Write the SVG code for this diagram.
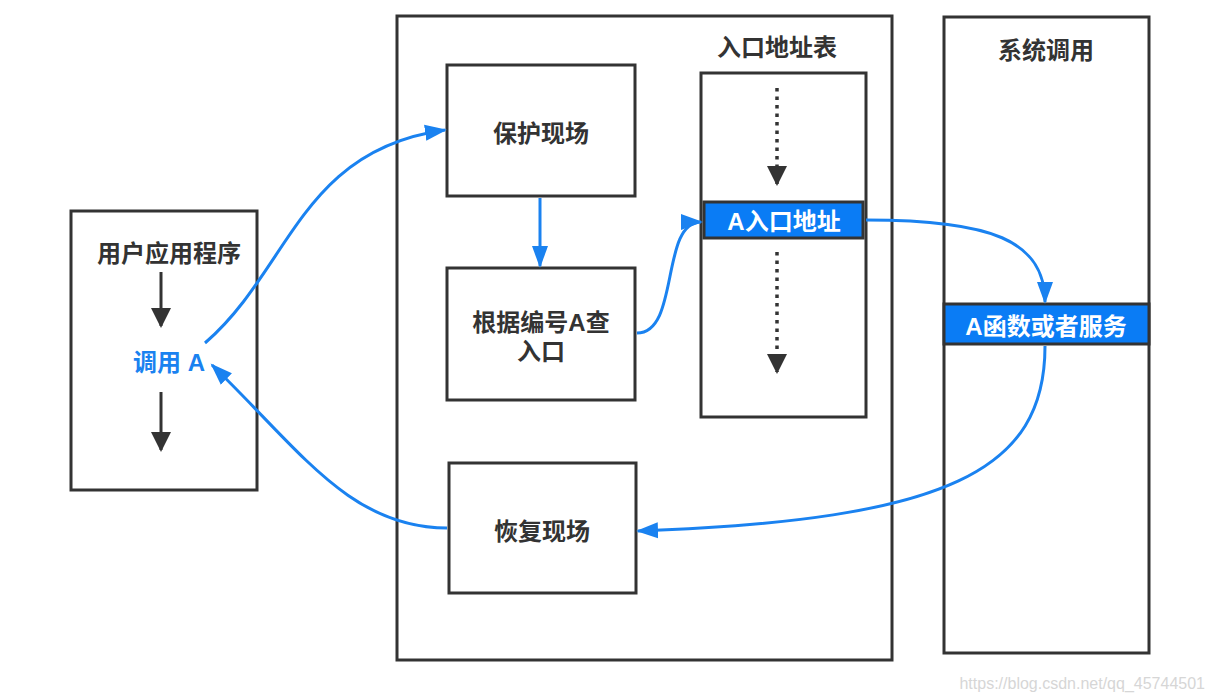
<svg xmlns="http://www.w3.org/2000/svg" width="1214" height="698" viewBox="0 0 1214 698">
<style>
.box{fill:#fff;stroke:#333;stroke-width:3}
.bar{fill:#0a7cf5;stroke:#333;stroke-width:3}
.t{font-family:"Liberation Sans","Noto Sans CJK SC",sans-serif;font-weight:bold;font-size:24px;fill:#333;text-anchor:middle}
.w{fill:#fff}
.b{fill:#1a82f0}
.blue{fill:none;stroke:#1a82f0;stroke-width:3}
.dark{fill:none;stroke:#333;stroke-width:3}
.dot{fill:none;stroke:#333;stroke-width:3.5;stroke-dasharray:3.5 5}
</style>
<defs>
<marker id="ab" markerUnits="userSpaceOnUse" markerWidth="24" markerHeight="20" refX="20" refY="10" orient="auto"><path d="M0,2 L22,10 L0,18 Z" fill="#1a82f0"/></marker>
<marker id="ad" markerUnits="userSpaceOnUse" markerWidth="20" markerHeight="26" refX="18" refY="10" orient="auto"><path d="M0,0 L20,10 L0,20 Z" fill="#333"/></marker>
</defs>
<rect width="1214" height="698" fill="#fff"/>
<g id="user-app">
<rect class="box" x="71" y="211" width="186" height="279"/>
<text class="t" x="169" y="262">用户应用程序</text>
<path class="dark" d="M161,272 L161,326" marker-end="url(#ad)"/>
<text class="t b" x="169" y="371">调用 A</text>
<path class="dark" d="M161,392 L161,450" marker-end="url(#ad)"/>
</g>
<g id="kernel">
<rect class="box" x="397" y="16" width="495" height="644"/>
</g>
<g id="save">
<rect class="box" x="447" y="65" width="188" height="131"/>
<text class="t" x="541" y="142">保护现场</text>
</g>
<g id="lookup">
<rect class="box" x="447" y="268" width="188" height="132"/>
<text class="t" x="541" y="331">根据编号A查</text>
<text class="t" x="541" y="360">入口</text>
</g>
<g id="restore">
<rect class="box" x="449" y="463" width="187" height="130"/>
<text class="t" x="542" y="540">恢复现场</text>
</g>
<g id="entry-table">
<text class="t" x="777" y="56">入口地址表</text>
<rect class="box" x="701" y="73" width="165" height="344"/>
<path class="dot" d="M777,88 L777,184" marker-end="url(#ad)"/>
<rect class="bar" x="704" y="202" width="159" height="36"/>
<text class="t w" x="784" y="230">A入口地址</text>
<path class="dot" d="M777,252 L777,372" marker-end="url(#ad)"/>
</g>
<g id="syscall">
<rect class="box" x="944" y="17" width="205" height="636"/>
<text class="t" x="1046" y="59">系统调用</text>
<rect class="bar" x="944" y="304" width="205" height="40"/>
<text class="t w" x="1046" y="335">A函数或者服务</text>
</g>
<g id="connectors">
<path class="blue" d="M205,343 C290,270 300,150 445,130" marker-end="url(#ab)"/>
<path class="blue" d="M540,198 L540,266" marker-end="url(#ab)"/>
<path class="blue" d="M637,333 C680,333 660,222 701,222" marker-end="url(#ab)"/>
<path class="blue" d="M866,220 C990,220 1045,240 1045,302" marker-end="url(#ab)"/>
<path class="blue" d="M1045,346 C1045,470 950,520 638,531" marker-end="url(#ab)"/>
<path class="blue" d="M447,528 C350,528 300,450 212,365" marker-end="url(#ab)"/>
</g>
<text x="1205" y="689" font-family="Liberation Sans,sans-serif" font-size="16" fill="#d6d6d6" text-anchor="end">https://blog.csdn.net/qq_45744501</text>
</svg>
